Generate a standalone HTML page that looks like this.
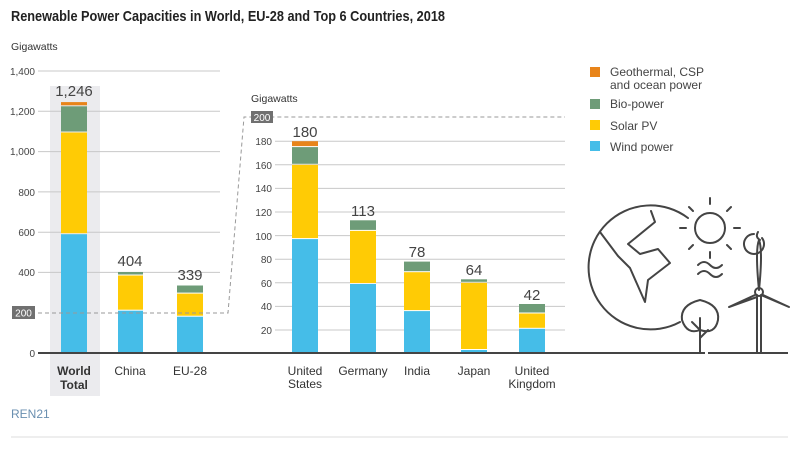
<!DOCTYPE html>
<html><head><meta charset="utf-8"><style>
body{margin:0;background:#fff}
svg{display:block;font-family:"Liberation Sans",sans-serif}
</style></head><body>
<svg width="800" height="452" viewBox="0 0 800 452">
<text x="11" y="21" font-size="15" font-weight="bold" fill="#222" textLength="434" lengthAdjust="spacingAndGlyphs">Renewable Power Capacities in World, EU-28 and Top 6 Countries, 2018</text>
<text x="11" y="50" font-size="10.5" fill="#333">Gigawatts</text>
<rect x="50" y="86" width="50" height="310" fill="#ebebee"/>
<g stroke="#c8c8c8" stroke-width="1">
<line x1="38" y1="71" x2="220" y2="71"/><line x1="38" y1="111.3" x2="220" y2="111.3"/><line x1="38" y1="151.6" x2="220" y2="151.6"/><line x1="38" y1="191.9" x2="220" y2="191.9"/><line x1="38" y1="232.2" x2="220" y2="232.2"/><line x1="38" y1="272.4" x2="220" y2="272.4"/>
<line x1="275" y1="330" x2="565" y2="330"/><line x1="275" y1="306.4" x2="565" y2="306.4"/><line x1="275" y1="282.8" x2="565" y2="282.8"/><line x1="275" y1="259.2" x2="565" y2="259.2"/><line x1="275" y1="235.6" x2="565" y2="235.6"/><line x1="275" y1="212" x2="565" y2="212"/><line x1="275" y1="188.4" x2="565" y2="188.4"/><line x1="275" y1="164.8" x2="565" y2="164.8"/><line x1="275" y1="141.2" x2="565" y2="141.2"/>
</g>
<g font-size="10" fill="#444" text-anchor="end">
<text x="35" y="75">1,400</text><text x="35" y="115">1,200</text><text x="35" y="155">1,000</text><text x="35" y="196">800</text><text x="35" y="236">600</text><text x="35" y="276">400</text><text x="35" y="357">0</text>
<text x="272" y="145">180</text><text x="272" y="169">160</text><text x="272" y="192">140</text><text x="272" y="216">120</text><text x="272" y="240">100</text><text x="272" y="263">80</text><text x="272" y="287">60</text><text x="272" y="310">40</text><text x="272" y="334">20</text>
</g>
<text x="251" y="102" font-size="10.5" fill="#333">Gigawatts</text>
<g>
<rect x="61" y="234.2" width="26" height="118.8" fill="#45bde8"/><rect x="61" y="132.5" width="26" height="100.7" fill="#ffcb05"/><rect x="61" y="106.3" width="26" height="25.2" fill="#6e9c78"/><rect x="61" y="102.1" width="26" height="3.2" fill="#e8841a"/>
<rect x="118" y="310.7" width="25" height="42.3" fill="#45bde8"/><rect x="118" y="275.5" width="25" height="34.2" fill="#ffcb05"/><rect x="118" y="272" width="25" height="2.5" fill="#6e9c78"/>
<rect x="177" y="316.7" width="26" height="36.3" fill="#45bde8"/><rect x="177" y="293.6" width="26" height="22.1" fill="#ffcb05"/><rect x="177" y="285.5" width="26" height="7.1" fill="#6e9c78"/>
<rect x="292" y="239.1" width="26" height="114" fill="#45bde8"/><rect x="292" y="164.8" width="26" height="73.3" fill="#ffcb05"/><rect x="292" y="147.1" width="26" height="16.7" fill="#6e9c78"/><rect x="292" y="141.2" width="26" height="4.9" fill="#e8841a"/>
<rect x="350" y="284" width="26" height="69" fill="#45bde8"/><rect x="350" y="230.9" width="26" height="52.1" fill="#ffcb05"/><rect x="350" y="220.3" width="26" height="9.6" fill="#6e9c78"/>
<rect x="404" y="311.1" width="26" height="41.9" fill="#45bde8"/><rect x="404" y="272.2" width="26" height="37.9" fill="#ffcb05"/><rect x="404" y="261.6" width="26" height="9.6" fill="#6e9c78"/>
<rect x="461" y="350" width="26" height="3" fill="#45bde8"/><rect x="461" y="282.8" width="26" height="66.2" fill="#ffcb05"/><rect x="461" y="279.3" width="26" height="2.5" fill="#6e9c78"/>
<rect x="519" y="328.8" width="26" height="24.2" fill="#45bde8"/><rect x="519" y="313.5" width="26" height="14.3" fill="#ffcb05"/><rect x="519" y="304" width="26" height="8.5" fill="#6e9c78"/>
</g>
<g stroke="#999" stroke-width="1" stroke-dasharray="4,3" fill="none">
<polyline points="38,313 228,313 244,117 565,117"/>
</g>
<rect x="12" y="306" width="23" height="13" fill="#707070"/><text x="23.5" y="316.5" font-size="10" fill="#fff" text-anchor="middle">200</text>
<rect x="251" y="111" width="22" height="12" fill="#707070"/><text x="262" y="121" font-size="10" fill="#fff" text-anchor="middle">200</text>
<g font-size="15" fill="#444" text-anchor="middle">
<text x="74" y="96">1,246</text><text x="130" y="266">404</text><text x="190" y="280">339</text>
<text x="305" y="137">180</text><text x="363" y="216">113</text><text x="417" y="257">78</text><text x="474" y="275">64</text><text x="532" y="300">42</text>
</g>
<line x1="38" y1="353" x2="705" y2="353" stroke="#444" stroke-width="2"/>
<line x1="708" y1="353" x2="788" y2="353" stroke="#444" stroke-width="2"/>
<g font-size="12" fill="#333" text-anchor="middle">
<text x="74" y="375" font-weight="bold">World</text><text x="74" y="389" font-weight="bold">Total</text>
<text x="130" y="375">China</text><text x="190" y="375">EU-28</text>
<text x="305" y="375">United</text><text x="305" y="388">States</text>
<text x="363" y="375">Germany</text><text x="417" y="375">India</text><text x="474" y="375">Japan</text>
<text x="532" y="375">United</text><text x="532" y="388">Kingdom</text>
</g>
<g font-size="12" fill="#444">
<rect x="590" y="67" width="10" height="10" fill="#e8841a"/><text x="610" y="76">Geothermal, CSP</text><text x="610" y="89">and ocean power</text>
<rect x="590" y="99" width="10" height="10" fill="#6e9c78"/><text x="610" y="108">Bio-power</text>
<rect x="590" y="120" width="10" height="10" fill="#ffcb05"/><text x="610" y="130">Solar PV</text>
<rect x="590" y="141" width="10" height="10" fill="#45bde8"/><text x="610" y="151">Wind power</text>
</g>
<g stroke="#444" stroke-width="2" fill="none" stroke-linecap="round" stroke-linejoin="round">
<path d="M688,218 A62,62 0 1 0 680,322"/>
<path d="M651,211 L655,222 L628,244 L640,254 L658,249 L670,263 L648,280 L645,302 L630,268 L618,256 L600,232"/>
<circle cx="710" cy="228" r="15"/>
<path d="M710,198v6M710,252v6M680,228h6M734,228h6M689,207l4,4M727,245l4,4M731,207l-4,4M693,245l-4,4"/>
<path d="M698,265q6,-6 12,0t12,0M698,274q6,-6 12,0t12,0"/>
<path d="M762,238 a10,10 0 1 1 -8,-4 M758,232 q-3,5 2,8"/>
<path d="M757,295 V352 M761,295 V352 M759,290 q-4,-40 0,-50 q4,10 0,50 M755,295 l-26,12 l28,-10 M763,295 l26,12 l-28,-12"/>
<circle cx="759" cy="292" r="4"/>
<path d="M700,352 V318 M700,330 l-8,-8 M700,338 l8,-8 M700,300 q-20,5 -18,20 q5,15 18,10 q15,5 18,-10 q2,-15 -18,-20z"/>
</g>
<text x="11" y="418" font-size="12" fill="#6a8fb0">REN21</text>
<line x1="11" y1="437" x2="788" y2="437" stroke="#ddd" stroke-width="1"/>
</svg>
</body></html>
